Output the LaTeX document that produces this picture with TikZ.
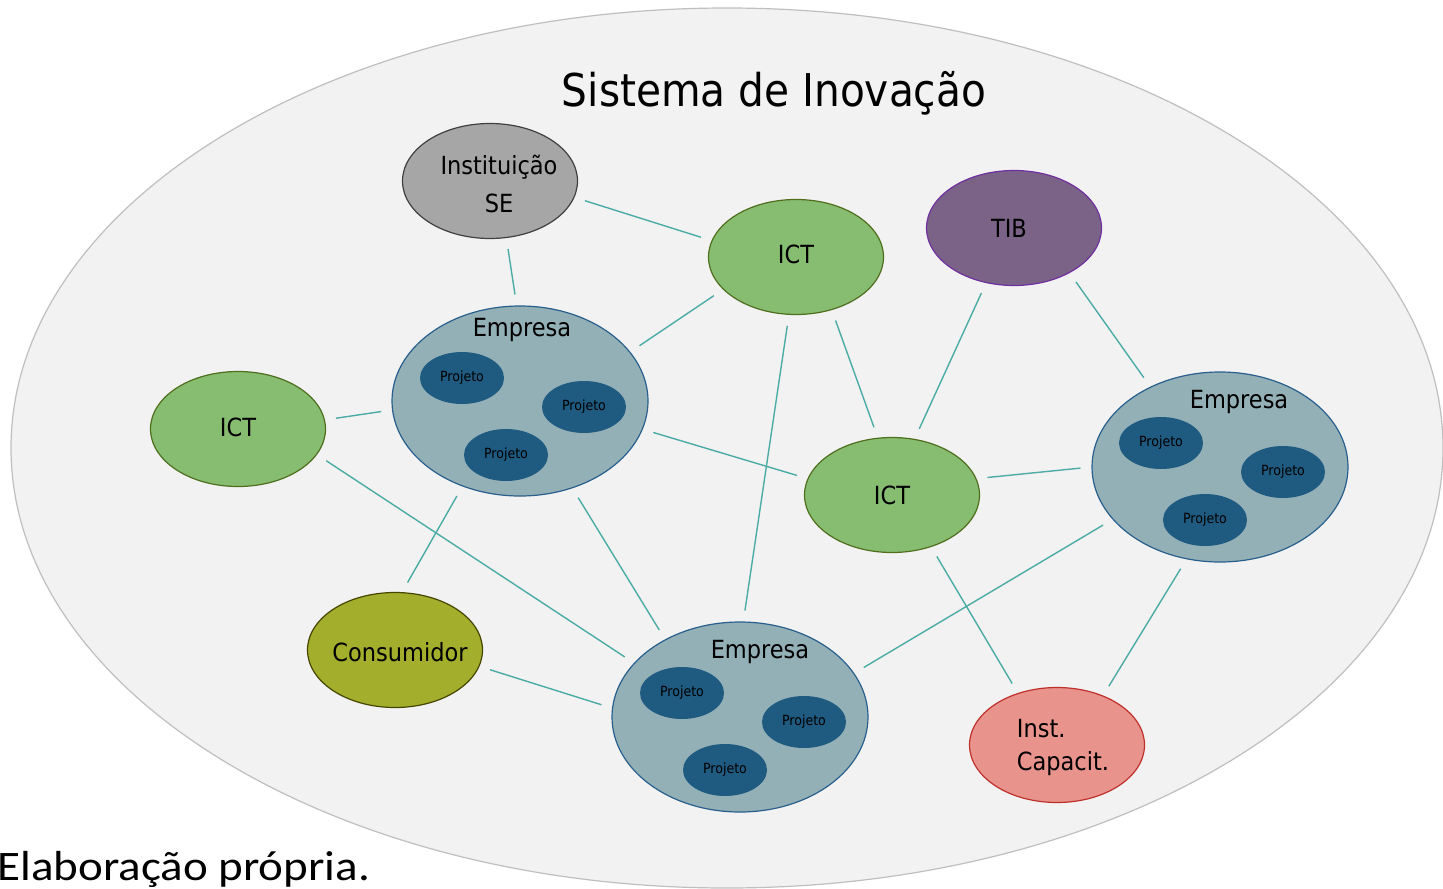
\documentclass[tikz,border=0pt]{standalone}
\usepackage{fontspec}
\setmainfont{DejaVu Sans Condensed}
\newfontfamily\fontecapt[FakeStretch=1.12]{Carlito}
\usetikzlibrary{shapes.geometric}

\definecolor{fundo}{RGB}{242,242,242}
\definecolor{fundoborda}{RGB}{191,191,191}
\definecolor{ictverde}{RGB}{135,189,113}
\definecolor{ictborda}{RGB}{79,110,30}
\definecolor{tibroxo}{RGB}{122,99,135}
\definecolor{tibborda}{RGB}{112,48,160}
\definecolor{empfundo}{RGB}{147,176,183}
\definecolor{empborda}{RGB}{40,95,140}
\definecolor{projfundo}{RGB}{31,90,128}
\definecolor{consfundo}{RGB}{163,174,44}
\definecolor{consborda}{RGB}{70,70,0}
\definecolor{capfundo}{RGB}{232,148,140}
\definecolor{capborda}{RGB}{192,48,42}
\definecolor{ligacor}{RGB}{75,172,166}

\tikzset{
  rotulo/.style={inner sep=0pt, font=\fontsize{12.5}{16}\selectfont},
  bloco/.style={ellipse, draw, line width=0.6pt, inner sep=0pt, minimum width=87.5pt, minimum height=57.5pt, font=\fontsize{12.5}{16}\selectfont},
  ict/.style={bloco, fill=ictverde, draw=ictborda},
  empresa/.style={ellipse, draw=empborda, fill=empfundo, line width=0.6pt, inner sep=0pt, minimum width=128pt, minimum height=95pt},
  projeto/.style={ellipse, fill=projfundo, inner sep=0pt, minimum width=42pt, minimum height=26pt, font=\fontsize{7}{8}\selectfont},
  ligacao/.style={draw=ligacor, line width=0.7pt, shorten >=5.5pt, shorten <=5.5pt},
}

\begin{document}
\begin{tikzpicture}[x=0.5pt,y=0.5pt,yscale=-1,xscale=1]
\useasboundingbox (0,0) rectangle (1443,888);
\fill[white] (0,0) rectangle (1443,888);

%Shape: Ellipse (sistema)
\draw[fundoborda, fill=fundo, line width=0.6pt] (727,448) ellipse [x radius=716, y radius=440];
%Title
\node[anchor=base, inner sep=0pt, font=\fontsize{22.6}{26}\selectfont] (titulo) at (774,106) {Sistema de Inovação};

%Shape: Ellipse (instituicao)
\node[bloco, fill=gray!70, draw=black!75,
  label={[rotulo, align=center, font=\fontsize{12.5}{19}\selectfont, xshift=4.5pt, yshift=-1.5pt]center:Instituição\\SE}] (inst) at (490,181) {};
%Shape: Ellipse (ict)
\node[ict] (ictA) at (796,257) {\raisebox{3pt}{ICT}};
\node[ict] (ictB) at (238,429) {\raisebox{2pt}{ICT}};
\node[ict] (ictC) at (892,495) {ICT};
%Shape: Ellipse (tib)
\node[bloco, fill=tibroxo, draw=tibborda] (tib) at (1014,228) {\hspace*{-5pt}\raisebox{-2.5pt}{TIB}};
%Shape: Ellipse (consumidor)
\node[bloco, fill=consfundo, draw=consborda,
  label={[rotulo, xshift=2.5pt, yshift=-1pt]center:Consumidor}] (cons) at (395,650) {};
%Shape: Ellipse (capacitacao)
\node[bloco, fill=capfundo, draw=capborda,
  label={[rotulo, align=left, font=\fontsize{12.5}{16.5}\selectfont, xshift=3pt, yshift=-1pt]center:Inst.\\Capacit.}] (capac) at (1057,745) {};

%Shape: Ellipse (empresa)
\node[empresa] (empA) at (520,401) {};
\node[rotulo] (empAl) at (522,330) {Empresa};
\node[projeto] (projA1) at (462,378) {Projeto};
\node[projeto] (projA2) at (584,407) {Projeto};
\node[projeto] (projA3) at (506,455) {Projeto};

\node[empresa] (empB) at (1220,467) {};
\node[rotulo] (empBl) at (1239,402) {Empresa};
\node[projeto] (projB1) at (1161,443) {Projeto};
\node[projeto] (projB2) at (1283,472) {Projeto};
\node[projeto] (projB3) at (1205,520) {Projeto};

\node[empresa] (empC) at (740,717) {};
\node[rotulo] (empCl) at (760,652) {Empresa};
\node[projeto] (projC1) at (682,693) {Projeto};
\node[projeto] (projC2) at (804,722) {Projeto};
\node[projeto] (projC3) at (725,770) {Projeto};

%Straight Lines
\draw[ligacao] (inst.-11) -- (ictA.169);
\draw[ligacao] (inst.-74) -- (empA.92);
\draw[ligacao] (ictA.204) -- (empA.24);
\draw[ligacao] (ictA.263) -- (empC.88);
\draw[ligacao] (ictA.-56) -- (ictC.104);
\draw[ligacao] (tib.-117) -- (ictC.68);
\draw[ligacao] (tib.-39) -- (empB.131);
\draw[ligacao] (ictB.6) -- (empA.184);
\draw[ligacao] (ictB.-18) -- (empC.153);
\draw[ligacao] (empA.-13) -- (ictC.169);
\draw[ligacao] (empA.-124) -- (cons.83);
\draw[ligacao] (empA.-59) -- (empC.134);
\draw[ligacao] (ictC.11) -- (empB.180);
\draw[ligacao] (ictC.-53) -- (capac.127);
\draw[ligacao] (empB.206) -- (empC.21);
\draw[ligacao] (empB.-110) -- (capac.47);
\draw[ligacao] (cons.-11) -- (empC.176);

%Source
\node[anchor=base west, inner sep=0pt, font=\fontsize{21}{24}\fontecapt] (fonte) at (-3,880) {Elaboração própria.};

\end{tikzpicture}
\end{document}
